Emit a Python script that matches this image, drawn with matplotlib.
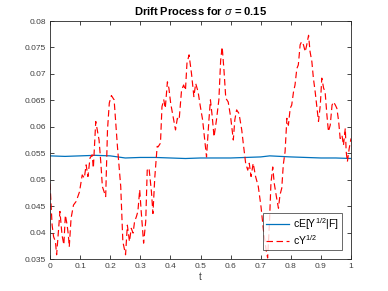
#!/usr/bin/env python3
import matplotlib
matplotlib.use("Agg")
import matplotlib.pyplot as plt
from matplotlib.ticker import FixedLocator, FixedFormatter


# cY^{1/2} sample path
PATH_T = [
    0.000, 0.007, 0.012, 0.018, 0.022, 0.028, 0.033, 0.040, 0.046, 0.051,
    0.057, 0.061, 0.064, 0.070, 0.078, 0.087, 0.098, 0.107, 0.114, 0.120,
    0.126, 0.133, 0.140, 0.144, 0.152, 0.163, 0.169, 0.174, 0.185, 0.191,
    0.197, 0.204, 0.213, 0.224, 0.235, 0.242, 0.251, 0.257, 0.264, 0.270,
    0.276, 0.281, 0.287, 0.292, 0.298, 0.303, 0.311, 0.318, 0.323, 0.329,
    0.337, 0.342, 0.348, 0.356, 0.359, 0.367, 0.372, 0.378, 0.383, 0.390,
    0.395, 0.401, 0.409, 0.417, 0.423, 0.429, 0.437, 0.444, 0.450, 0.455,
    0.462, 0.470, 0.478, 0.484, 0.492, 0.499, 0.507, 0.514, 0.520, 0.528,
    0.533, 0.539, 0.545, 0.553, 0.561, 0.567, 0.572, 0.578, 0.584, 0.592,
    0.600, 0.609, 0.614, 0.620, 0.628, 0.637, 0.642, 0.650, 0.657, 0.662,
    0.668, 0.675, 0.683, 0.692, 0.701, 0.709, 0.718, 0.723, 0.729, 0.734,
    0.740, 0.745, 0.753, 0.759, 0.764, 0.770, 0.775, 0.781, 0.787, 0.792,
    0.798, 0.803, 0.809, 0.814, 0.820, 0.825, 0.831, 0.836, 0.842, 0.848,
    0.853, 0.859, 0.864, 0.870, 0.875, 0.881, 0.887, 0.892, 0.898, 0.903,
    0.909, 0.914, 0.920, 0.925, 0.931, 0.937, 0.942, 0.948, 0.953, 0.959,
    0.964, 0.970, 0.975, 0.981, 0.984, 0.988, 0.994, 1.000,
]
PATH_Y = [
    0.0493, 0.0414, 0.0392, 0.0383, 0.0358, 0.0402, 0.0440, 0.0395, 0.0377, 0.0433,
    0.0414, 0.0395, 0.0373, 0.0427, 0.0452, 0.0459, 0.0477, 0.0509, 0.0503, 0.0528,
    0.0506, 0.0541, 0.0547, 0.0522, 0.0610, 0.0575, 0.0531, 0.0487, 0.0468, 0.0594,
    0.0645, 0.0659, 0.0651, 0.0563, 0.0487, 0.0383, 0.0358, 0.0414, 0.0383, 0.0408,
    0.0399, 0.0421, 0.0430, 0.0440, 0.0481, 0.0440, 0.0380, 0.0421, 0.0518, 0.0522,
    0.0477, 0.0436, 0.0503, 0.0563, 0.0562, 0.0569, 0.0638, 0.0651, 0.0635, 0.0685,
    0.0673, 0.0644, 0.0619, 0.0594, 0.0616, 0.0613, 0.0669, 0.0679, 0.0669, 0.0720,
    0.0736, 0.0701, 0.0657, 0.0682, 0.0666, 0.0640, 0.0613, 0.0575, 0.0543, 0.0613,
    0.0651, 0.0619, 0.0581, 0.0613, 0.0651, 0.0726, 0.0751, 0.0707, 0.0654, 0.0647,
    0.0619, 0.0575, 0.0613, 0.0632, 0.0625, 0.0594, 0.0569, 0.0531, 0.0518, 0.0531,
    0.0506, 0.0531, 0.0506, 0.0487, 0.0449, 0.0405, 0.0367, 0.0352, 0.0417, 0.0493,
    0.0524, 0.0493, 0.0465, 0.0446, 0.0471, 0.0484, 0.0528, 0.0553, 0.0616, 0.0603,
    0.0635, 0.0641, 0.0666, 0.0679, 0.0710, 0.0717, 0.0755, 0.0761, 0.0755, 0.0742,
    0.0755, 0.0773, 0.0742, 0.0723, 0.0692, 0.0666, 0.0635, 0.0610, 0.0641, 0.0692,
    0.0673, 0.0666, 0.0622, 0.0591, 0.0603, 0.0641, 0.0647, 0.0641, 0.0635, 0.0610,
    0.0578, 0.0584, 0.0565, 0.0597, 0.0553, 0.0534, 0.0559, 0.0578,
]

# cE[Y^{1/2}|F], nearly flat
MEAN_T = [0.00, 0.05, 0.10, 0.15, 0.20, 0.25, 0.30, 0.35, 0.40, 0.45,
          0.50, 0.55, 0.60, 0.65, 0.70, 0.73, 0.80, 0.85, 0.90, 0.95, 1.00]
MEAN_Y = [0.0545, 0.0544, 0.0545, 0.0546, 0.0545, 0.0541, 0.0542, 0.0542, 0.0541, 0.0540,
          0.0541, 0.0541, 0.0541, 0.0542, 0.0543, 0.0545, 0.0543, 0.0542, 0.0541, 0.0541, 0.0540]

X_TICKS = [0, 0.1, 0.2, 0.3, 0.4, 0.5, 0.6, 0.7, 0.8, 0.9, 1]
X_TICK_LABELS = ["0", "0.1", "0.2", "0.3", "0.4", "0.5", "0.6", "0.7", "0.8", "0.9", "1"]
Y_TICKS = [0.035, 0.04, 0.045, 0.05, 0.055, 0.06, 0.065, 0.07, 0.075, 0.08]
Y_TICK_LABELS = ["0.035", "0.04", "0.045", "0.05", "0.055", "0.06", "0.065", "0.07", "0.075", "0.08"]

BLUE = "#0072BD"
RED = "#FF0000"
AXIS_GRAY = "#262626"
TICK_TEXT = "#404040"

plt.rcParams["font.family"] = ["Liberation Sans", "DejaVu Sans"]
plt.rcParams["mathtext.fontset"] = "custom"
plt.rcParams["mathtext.rm"] = "Liberation Sans"
plt.rcParams["mathtext.it"] = "Liberation Sans:italic"

fig = plt.figure(figsize=(3.88, 2.91), dpi=100)
ax = fig.add_axes([50 / 388, 32 / 291, 301 / 388, 238 / 291])

ax.plot(MEAN_T, MEAN_Y, color=BLUE, linewidth=0.9, label=r"cE[Y$^{1/2}$|F]")
ax.plot(PATH_T, PATH_Y, color=RED, linewidth=0.85, linestyle=(0, (5.5, 3)), label=r"cY$^{1/2}$")

ax.set_xlim(0, 1)
ax.set_ylim(0.035, 0.08)
ax.xaxis.set_major_locator(FixedLocator(X_TICKS))
ax.xaxis.set_major_formatter(FixedFormatter(X_TICK_LABELS))
ax.yaxis.set_major_locator(FixedLocator(Y_TICKS))
ax.yaxis.set_major_formatter(FixedFormatter(Y_TICK_LABELS))
ax.tick_params(direction="in", length=3, width=0.6, labelsize=6, colors=AXIS_GRAY,
               labelcolor=TICK_TEXT, top=True, right=True, pad=3)
for spine in ax.spines.values():
    spine.set_linewidth(0.6)
    spine.set_color(AXIS_GRAY)

ax.set_xlabel("t", fontsize=7, color=TICK_TEXT, labelpad=1)
ax.set_title(r"Drift Process for $\sigma$ = 0.15", fontsize=8, fontweight="bold", pad=4)

leg = ax.legend(loc="lower right", fontsize=7.5, frameon=True, fancybox=False,
                handlelength=2.2, borderpad=0.3, labelspacing=0.15,
                handletextpad=0.4, borderaxespad=0.85)
leg.get_frame().set_edgecolor(AXIS_GRAY)
leg.get_frame().set_linewidth(0.6)

fig.savefig("out.png", dpi=100)
